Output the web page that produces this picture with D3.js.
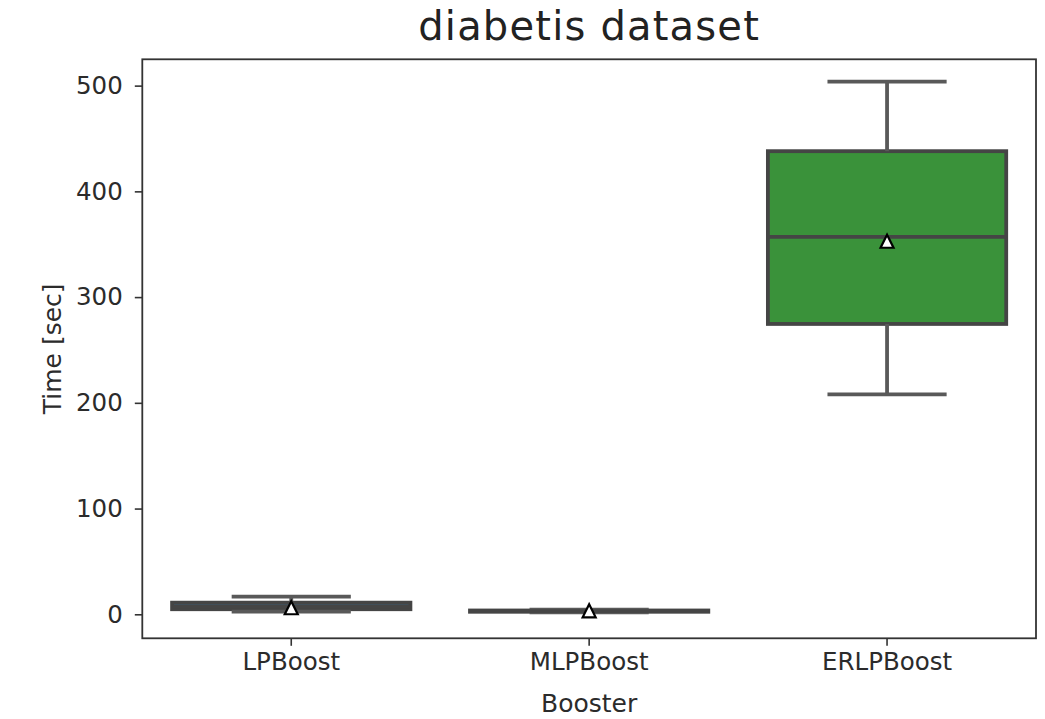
<!DOCTYPE html>
<html>
<head>
<meta charset="utf-8">
<script src="https://cdn.jsdelivr.net/npm/d3@7"></script>
<style>
  html, body { margin: 0; padding: 0; background: #fff; }
  text { font-family: "DejaVu Sans", sans-serif; }
</style>
</head>
<body>
<div id="chart"></div>
<script>
// values
var boosters = ["LPBoost", "MLPBoost", "ERLPBoost"];
var whiskerLow = [2.5, 1.8, 208];
var q1 = [4.8, 2.4, 274.6];
var median = [7.5, 3.0, 357];
var q3 = [11, 3.6, 438];
var whiskerHigh = [16.8, 4.5, 503.8];
var means = [6.2, 3.3, 352.8];
var fills = ["#3274a1", "#e1812c", "#3a923a"];
var yTicks = [0, 100, 200, 300, 400, 500];

var width = 1045;
var height = 719;
var margin = {top: 59.3, right: 9, bottom: 80.7, left: 142.3};
var textColor = "#2b2b2b";

var svg = d3.select("#chart").append("svg")
  .attr("width", width).attr("height", height);

var x = d3.scaleBand().domain(boosters)
  .range([margin.left, width - margin.right]).paddingInner(0).paddingOuter(0);
var y = d3.scaleLinear().domain([-22.7, 524.9])
  .range([height - margin.bottom, margin.top]);

var boxW = x.bandwidth() * 0.8;
var capW = boxW / 2;

var data = boosters.map(function (b, i) {
  return {name: b, lo: whiskerLow[i], q1: q1[i], med: median[i], q3: q3[i],
    hi: whiskerHigh[i], mean: means[i], fill: fills[i]};
});

var cx = function (d) { return x(d.name) + x.bandwidth() / 2; };

var g = svg.append("g");
var boxes = g.selectAll("g.box").data(data).join("g").attr("class", "box");

boxes.append("rect")
  .attr("x", function (d) { return cx(d) - boxW / 2; })
  .attr("y", function (d) { return y(d.q3); })
  .attr("width", boxW)
  .attr("height", function (d) { return y(d.q1) - y(d.q3); })
  .attr("fill", function (d) { return d.fill; })
  .attr("stroke", "#454545").attr("stroke-width", 3.8);

// whiskers
boxes.append("line")
  .attr("x1", cx).attr("x2", cx)
  .attr("y1", function (d) { return y(d.q3); })
  .attr("y2", function (d) { return y(d.hi); })
  .attr("stroke", "#595959").attr("stroke-width", 3.8);
boxes.append("line")
  .attr("x1", cx).attr("x2", cx)
  .attr("y1", function (d) { return y(d.q1); })
  .attr("y2", function (d) { return y(d.lo); })
  .attr("stroke", "#595959").attr("stroke-width", 3.8);

// caps
["lo", "hi"].forEach(function (k) {
  boxes.append("line")
    .attr("x1", function (d) { return cx(d) - capW / 2; })
    .attr("x2", function (d) { return cx(d) + capW / 2; })
    .attr("y1", function (d) { return y(d[k]); })
    .attr("y2", function (d) { return y(d[k]); })
    .attr("stroke", "#595959").attr("stroke-width", 3.8);
});

// median
boxes.append("line")
  .attr("x1", function (d) { return cx(d) - boxW / 2; })
  .attr("x2", function (d) { return cx(d) + boxW / 2; })
  .attr("y1", function (d) { return y(d.med); })
  .attr("y2", function (d) { return y(d.med); })
  .attr("stroke", "#454545").attr("stroke-width", 3.8);

// mean markers
var s = 13;
var tri = "M0," + (-s / 2) + "L" + (s / 2) + "," + (s / 2) + "L" + (-s / 2) + "," + (s / 2) + "Z";
boxes.append("path")
  .attr("d", tri)
  .attr("transform", function (d) { return "translate(" + cx(d) + "," + y(d.mean) + ")"; })
  .attr("fill", "#fff").attr("stroke", "#000").attr("stroke-width", 2.2)
  .attr("stroke-linejoin", "miter");

// axes
var yAxis = svg.append("g")
  .attr("transform", "translate(" + margin.left + ",0)")
  .call(d3.axisLeft(y).tickValues(yTicks).tickSize(7.5).tickPadding(12).tickSizeOuter(0));
var xAxis = svg.append("g")
  .attr("transform", "translate(0," + (height - margin.bottom) + ")")
  .call(d3.axisBottom(x).tickSize(7.5).tickPadding(7).tickSizeOuter(0));

[xAxis, yAxis].forEach(function (ax) {
  ax.select(".domain").remove();
  ax.selectAll(".tick line").attr("stroke", "#333").attr("stroke-width", 1.6);
  ax.selectAll(".tick text").attr("fill", textColor)
    .style("font-family", "DejaVu Sans").style("font-size", "24.5px");
});

// frame
svg.append("rect")
  .attr("x", margin.left).attr("y", margin.top)
  .attr("width", width - margin.left - margin.right)
  .attr("height", height - margin.top - margin.bottom)
  .attr("fill", "none").attr("stroke", "#333").attr("stroke-width", 1.8);

// labels
svg.append("text")
  .attr("x", (margin.left + width - margin.right) / 2).attr("y", 40)
  .attr("text-anchor", "middle").attr("fill", "#222")
  .style("font-size", "40px").style("letter-spacing", "1.2px").text("diabetis dataset");

svg.append("text")
  .attr("x", (margin.left + width - margin.right) / 2).attr("y", 712)
  .attr("text-anchor", "middle").attr("fill", textColor)
  .style("font-size", "25px").text("Booster");

svg.append("text")
  .attr("transform", "translate(61," + ((margin.top + height - margin.bottom) / 2) + ") rotate(-90)")
  .attr("text-anchor", "middle").attr("fill", textColor)
  .style("font-size", "25px").text("Time [sec]");
</script>
</body>
</html>
